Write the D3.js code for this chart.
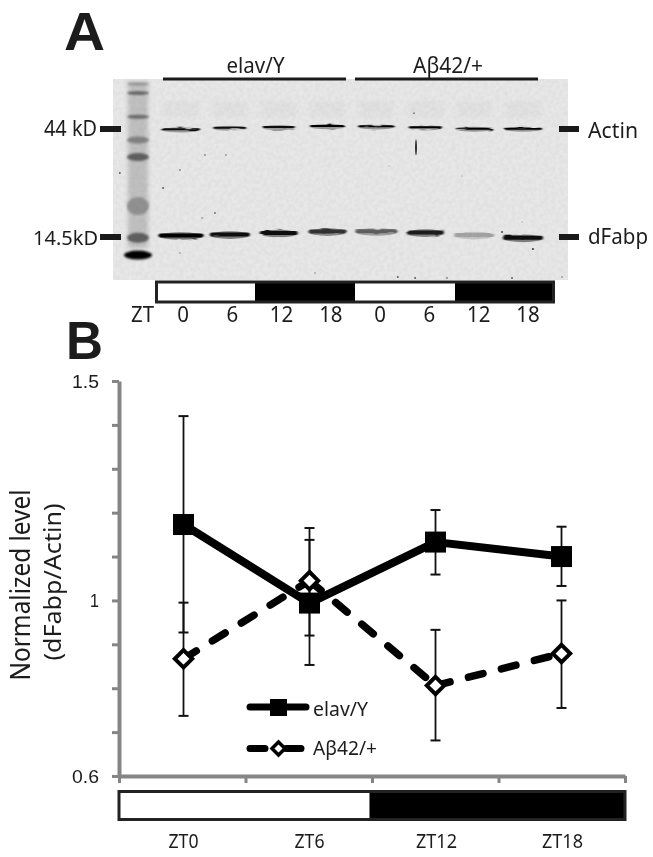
<!DOCTYPE html>
<html>
<head>
<meta charset="utf-8">
<style>
html, body { margin: 0; padding: 0; background: #fff; }
svg { display: block; }
text { font-family: "Noto Sans", "Open Sans", sans-serif; fill: #1c1c1c; }
</style>
<script src="https://cdn.jsdelivr.net/npm/d3@7"></script>
</head>
<body>
<script>
// panel B values
var times = ["ZT0", "ZT6", "ZT12", "ZT18"];
var elavMean = [1.173, 0.994, 1.133, 1.100];
var elavLow = [0.927, 0.853, 1.059, 1.033];
var elavHigh = [1.420, 1.138, 1.206, 1.168];
var abetaMean = [0.867, 1.045, 0.806, 0.879];
var abetaLow = [0.737, 0.920, 0.681, 0.755];
var abetaHigh = [0.995, 1.165, 0.933, 1.000];
var yTicks = [0.6, 0.7, 0.8, 0.9, 1.0, 1.1, 1.2, 1.3, 1.4, 1.5];
var yLabels = [0.6, 1, 1.5];

// panel A values, migration is percent of gel height
var lanes = ["e0", "e6", "e12", "e18", "a0", "a6", "a12", "a18"];
var laneTicks = ["0", "6", "12", "18", "0", "6", "12", "18"];
var actinMigration = [25.0, 24.2, 23.9, 23.4, 23.5, 24.0, 24.7, 24.7];
var actinStrength = [0.95, 0.95, 0.95, 1, 1, 1, 1, 1];
var actinSpread = [0.78, 0.68, 0.66, 0.72, 0.75, 0.68, 0.74, 0.78];
var fabpMigration = [77.8, 77.4, 76.6, 75.9, 75.8, 76.4, 77.6, 79.0];
var fabpStrength = [1, 0.95, 0.95, 0.8, 0.6, 0.9, 0.3, 0.95];
var fabpSpread = [0.92, 0.82, 0.78, 0.78, 0.86, 0.76, 0.82, 0.82];
var ladderMigration = [2.5, 7, 18.8, 30.3, 38.8, 63.2, 79, 87.6];
var ladderStrength = [0.4, 0.6, 0.55, 0.45, 0.6, 0.38, 0.6, 1];
var ladderThick = [2, 3.5, 4, 7, 8, 18, 10, 9];
var specksX = [1.5, 11, 14.7, 20.2, 24.8, 22.4, 19.6, 14.7, 44.4, 92.3, 85.5, 60.7, 76.7, 89.9, 62.6, 66.4, 87.7, 98.7, 73.4];
var specksY = [46.8, 54.2, 45.3, 37.8, 37.8, 66.7, 69.2, 86.6, 96.5, 84.6, 76.1, 43.3, 48.3, 71.1, 98.5, 99, 99, 98.5, 99];
var specksTone = [0.6, 0.6, 0.4, 0.4, 0.3, 0.5, 0.3, 0.25, 0.25, 0.8, 0.7, 0.12, 0.12, 0.12, 0.6, 0.6, 0.6, 0.3, 0.4];

var width = 653, height = 857;
var svg = d3.select("body").append("svg").attr("width", width).attr("height", height);

var defs = svg.append("defs");
function addFilter(id) {
    return defs.append("filter").attr("id", id)
        .attr("filterUnits", "userSpaceOnUse")
        .attr("x", 0).attr("y", 0).attr("width", width).attr("height", height);
}
addFilter("softBlur").append("feGaussianBlur").attr("stdDeviation", "2.2 1.6");
addFilter("ladderBlur").append("feGaussianBlur").attr("stdDeviation", "1.2 1");
addFilter("textBlur").append("feGaussianBlur").attr("stdDeviation", "0.35");

// ragged band edges
var ragged = addFilter("ragged");
ragged.append("feTurbulence").attr("type", "fractalNoise").attr("baseFrequency", "0.07 0.18")
    .attr("numOctaves", 2).attr("seed", 4).attr("result", "n");
ragged.append("feDisplacementMap").attr("in", "SourceGraphic").attr("in2", "n")
    .attr("scale", 2.5).attr("xChannelSelector", "R").attr("yChannelSelector", "G").attr("result", "d");
ragged.append("feGaussianBlur").attr("in", "d").attr("stdDeviation", "0.8 0.55");

// faint blotting membrane grain
var grain = addFilter("grain");
grain.append("feTurbulence").attr("type", "fractalNoise").attr("baseFrequency", "0.25")
    .attr("numOctaves", 2).attr("seed", 9).attr("result", "n");
grain.append("feColorMatrix").attr("in", "n").attr("type", "matrix")
    .attr("values", "0 0 0 0 0  0 0 0 0 0  0 0 0 0 0  0.07 0 0 0 -0.025").attr("result", "g");
grain.append("feComposite").attr("in", "g").attr("in2", "SourceAlpha").attr("operator", "in");

// squeezed text, the original font is much narrower than what is installed
function label(g, str, x, y, size, len, anchor) {
    return g.append("text")
        .attr("x", x).attr("y", y)
        .attr("font-size", size)
        .attr("text-anchor", anchor || "start")
        .attr("textLength", len)
        .attr("lengthAdjust", "spacingAndGlyphs")
        .text(str);
}

//---------- panel A
var panelA = svg.append("g");
var blackBar = "#1a1a1a";

var gelX = d3.scaleLinear().domain([0, 100]).range([113, 568]);
var gelY = d3.scaleLinear().domain([0, 100]).range([79, 280]);
var laneX = d3.scalePoint().domain(lanes).range([181, 523]);
var laneStep = laneX.step();
var grey = d3.scaleLinear().domain([0, 1]).range(["#e6e6e6", "#050505"]);

panelA.append("rect")
    .attr("x", gelX(0)).attr("y", gelY(0))
    .attr("width", gelX(100) - gelX(0)).attr("height", gelY(100) - gelY(0))
    .attr("fill", "#e7e7e7");

// ladder smear and its bands
panelA.append("rect")
    .attr("x", 128).attr("y", gelY(1))
    .attr("width", 20).attr("height", gelY(84) - gelY(1))
    .attr("fill", "#bfbfbf").attr("filter", "url(#softBlur)");

panelA.selectAll(".ladder").data(ladderMigration).enter().append("ellipse")
    .attr("class", "ladder")
    .attr("cx", 138)
    .attr("cy", function(d) { return gelY(d); })
    .attr("rx", function(d, i) { return i == 7 ? 14 : 11; })
    .attr("ry", function(d, i) { return ladderThick[i] / 2; })
    .attr("fill", function(d, i) { return grey(ladderStrength[i]); })
    .attr("filter", "url(#ladderBlur)");

// faint smudges over the actin bands
panelA.selectAll(".smudge").data(lanes).enter().append("rect")
    .attr("class", "smudge")
    .attr("x", function(d) { return laneX(d) - laneStep * 0.36; })
    .attr("y", gelY(11))
    .attr("width", laneStep * 0.72)
    .attr("height", gelY(19) - gelY(11))
    .attr("fill", "#e1e1e1")
    .attr("filter", "url(#softBlur)");

var bands = panelA.append("g").attr("filter", "url(#ragged)");

function drawBands(cls, migration, strength, spread, thick, haloThick, haloShare) {
    // grey halo under, dark core on top
    bands.selectAll("." + cls + "h").data(lanes).enter().append("ellipse")
        .attr("class", cls + "h")
        .attr("cx", function(d) { return laneX(d); })
        .attr("cy", function(d, i) { return gelY(migration[i]) + 0.6; })
        .attr("rx", function(d, i) { return laneStep * spread[i] / 2; })
        .attr("ry", haloThick)
        .attr("fill", function(d, i) { return grey(strength[i] * haloShare); });
    bands.selectAll("." + cls).data(lanes).enter().append("rect")
        .attr("class", cls)
        .attr("x", function(d, i) { return laneX(d) - laneStep * spread[i] / 2; })
        .attr("y", function(d, i) { return gelY(migration[i]) - thick / 2; })
        .attr("width", function(d, i) { return laneStep * spread[i]; })
        .attr("height", thick)
        .attr("rx", thick / 2)
        .attr("fill", function(d, i) { return grey(strength[i]); });
}
drawBands("actin", actinMigration, actinStrength, actinSpread, 2, 2.6, 0.35);
drawBands("fabp", fabpMigration, fabpStrength, fabpSpread, 4, 3.8, 0.5);

// scratch through lane a6
panelA.append("ellipse")
    .attr("cx", 416).attr("cy", gelY(34))
    .attr("rx", 1).attr("ry", 8)
    .attr("fill", "#333").attr("filter", "url(#textBlur)");
panelA.append("circle")
    .attr("cx", 414).attr("cy", gelY(17)).attr("r", 0.9).attr("fill", "#777");

panelA.selectAll(".speck").data(specksX).enter().append("circle")
    .attr("class", "speck")
    .attr("cx", function(d) { return gelX(d); })
    .attr("cy", function(d, i) { return gelY(specksY[i]); })
    .attr("r", 1)
    .attr("fill", function(d, i) { return grey(specksTone[i]); });

panelA.append("rect")
    .attr("x", gelX(0)).attr("y", gelY(0))
    .attr("width", gelX(100) - gelX(0)).attr("height", gelY(100) - gelY(0))
    .attr("fill", "#000").attr("filter", "url(#grain)");

// group bars and markers
panelA.append("rect").attr("x", 163).attr("y", 77.5).attr("width", 183).attr("height", 3).attr("fill", blackBar);
panelA.append("rect").attr("x", 355).attr("y", 77.5).attr("width", 183).attr("height", 3).attr("fill", blackBar);
[129, 237].forEach(function(y) {
    panelA.append("rect").attr("x", 100).attr("y", y - 3).attr("width", 21).attr("height", 6).attr("fill", blackBar);
    panelA.append("rect").attr("x", 559).attr("y", y - 3).attr("width", 20).attr("height", 6).attr("fill", blackBar);
});

// light dark bar of the blot
var ldX = d3.scaleBand().domain(d3.range(4)).range([155, 555]);
panelA.selectAll(".ldA").data(d3.range(4)).enter().append("rect")
    .attr("class", "ldA")
    .attr("x", function(d) { return ldX(d); })
    .attr("y", 282)
    .attr("width", ldX.bandwidth())
    .attr("height", 20)
    .attr("fill", function(d) { return d % 2 ? "#000" : "#fff"; });
panelA.append("rect").attr("x", 156.5).attr("y", 282).attr("width", 397).attr("height", 20)
    .attr("fill", "none").attr("stroke", "#222").attr("stroke-width", 3);

var textA = panelA.append("g").attr("filter", "url(#textBlur)");
label(textA, "elav/Y", 255.5, 72.5, 21, 58, "middle");
label(textA, "Aβ42/+", 448, 72.5, 21, 70, "middle");
label(textA, "44 kD", 97, 136, 21, 53, "end");
label(textA, "14.5kD", 98, 245, 20, 65, "end");
label(textA, "Actin", 588, 138, 22, 50);
label(textA, "dFabp", 588, 243.5, 22, 60);
label(textA, "ZT", 131, 322, 21, 23);
var tickX = d3.scalePoint().domain(lanes).range([183, 528]);
lanes.forEach(function(l, i) {
    label(textA, laneTicks[i], tickX(l), 322, 21, laneTicks[i].length * 11.7, "middle");
});

svg.append("text").attr("x", 64).attr("y", 49.5)
    .attr("font-size", 54).attr("font-weight", 700).attr("fill", "#222")
    .style("font-family", "Liberation Sans")
    .attr("textLength", 41).attr("lengthAdjust", "spacingAndGlyphs").text("A");
svg.append("text").attr("x", 66).attr("y", 359)
    .attr("font-size", 54).attr("font-weight", 700).attr("fill", "#222")
    .style("font-family", "Liberation Sans")
    .attr("textLength", 37).attr("lengthAdjust", "spacingAndGlyphs").text("B");

//---------- panel B
var left = 119, right = 625, top_ = 381, bottom = 776;
var x = d3.scaleBand().domain(times).range([120.5, 624.5]);
var xEdge = d3.scaleLinear().domain([0, 4]).range([left, right]);
var y = d3.scaleLinear().domain([0.6, 1.5]).range([bottom, top_]);

var yAxis = d3.axisLeft(y).tickValues(yTicks).tickSize(7).tickSizeOuter(0).tickFormat("");
var gy = svg.append("g").attr("transform", "translate(" + left + ",0)").call(yAxis);
var xAxis = d3.axisBottom(xEdge).ticks(4).tickSize(7).tickSizeOuter(0).tickFormat("");
var gx = svg.append("g").attr("transform", "translate(0," + bottom + ")").call(xAxis);
svg.selectAll(".domain").attr("stroke", "#858585").attr("stroke-width", 4);
svg.selectAll(".tick line").attr("stroke", "#858585").attr("stroke-width", 3);

var textB = svg.append("g").attr("filter", "url(#textBlur)");
yLabels.forEach(function(v) {
    label(textB, String(v), 99, y(v) + 7, 19, v == 1 ? 9 : 27, "end")
        .style("font-family", "Liberation Sans");
});

textB.append("text")
    .attr("transform", "translate(30,585) rotate(-90)")
    .attr("text-anchor", "middle").attr("font-size", 26.5)
    .attr("textLength", 191).attr("lengthAdjust", "spacingAndGlyphs")
    .text("Normalized level");
textB.append("text")
    .attr("transform", "translate(61,582) rotate(-90)")
    .attr("text-anchor", "middle").attr("font-size", 24)
    .attr("textLength", 157).attr("lengthAdjust", "spacingAndGlyphs")
    .text("(dFabp/Actin)");

var xc = function(i) { return x(times[i]) + x.bandwidth() / 2; };

function errorBars(low, high) {
    var g = svg.append("g").attr("stroke", "#111").attr("fill", "none");
    times.forEach(function(t, i) {
        g.append("line").attr("x1", xc(i)).attr("x2", xc(i)).attr("y1", y(low[i])).attr("y2", y(high[i])).attr("stroke-width", 1.8);
        [low[i], high[i]].forEach(function(v) {
            g.append("line").attr("x1", xc(i) - 5).attr("x2", xc(i) + 5).attr("y1", y(v)).attr("y2", y(v)).attr("stroke-width", 2);
        });
    });
}
errorBars(elavLow, elavHigh);
errorBars(abetaLow, abetaHigh);

var line = d3.line()
    .x(function(d) { return xc(d.i); })
    .y(function(d) { return y(d.v); });

function withIndex(values) {
    return values.map(function(v, i) { return {i: i, v: v}; });
}

// dashes start over at each marker, so one path per segment
svg.selectAll(".dashSeg").data(d3.pairs(withIndex(abetaMean))).enter().append("path")
    .attr("class", "dashSeg")
    .attr("d", line).attr("fill", "none").attr("stroke", "#000")
    .attr("stroke-width", 7.5).attr("stroke-dasharray", "15 19").attr("stroke-linecap", "round");
svg.append("path").datum(withIndex(elavMean))
    .attr("d", line).attr("fill", "none").attr("stroke", "#000").attr("stroke-width", 8);

svg.selectAll(".sq").data(elavMean).enter().append("rect")
    .attr("class", "sq")
    .attr("x", function(d, i) { return xc(i) - 10.5; })
    .attr("y", function(d) { return y(d) - 10.5; })
    .attr("width", 21).attr("height", 21).attr("fill", "#000");

svg.selectAll(".dm").data(abetaMean).enter().append("path")
    .attr("class", "dm")
    .attr("d", "M0,-8.7L8.7,0L0,8.7L-8.7,0Z")
    .attr("transform", function(d, i) { return "translate(" + xc(i) + "," + y(d) + ")"; })
    .attr("fill", "#fff").attr("stroke", "#000").attr("stroke-width", 4);

// legend
var legend = svg.append("g");
legend.append("line").attr("x1", 250).attr("x2", 306).attr("y1", 707).attr("y2", 707)
    .attr("stroke", "#000").attr("stroke-width", 7).attr("stroke-linecap", "round");
legend.append("rect").attr("x", 270).attr("y", 699).attr("width", 17).attr("height", 17).attr("fill", "#000");
legend.append("line").attr("x1", 250).attr("x2", 305).attr("y1", 748.5).attr("y2", 748.5)
    .attr("stroke", "#000").attr("stroke-width", 7).attr("stroke-linecap", "round")
    .attr("stroke-dasharray", "15 21");
legend.append("path").attr("d", "M0,-6.5L6.5,0L0,6.5L-6.5,0Z")
    .attr("transform", "translate(278.5,748.5)")
    .attr("fill", "#fff").attr("stroke", "#000").attr("stroke-width", 3.5);
label(textB, "elav/Y", 313, 715.5, 19.5, 55);
label(textB, "Aβ42/+", 313, 755, 19.5, 64);

// light dark strip
var phases = ["light", "dark"];
var phaseEnd = [0.495, 1];
var stripX = d3.scaleLinear().domain([0, 1]).range([left, right]);
svg.selectAll(".strip").data(phases).enter().append("rect")
    .attr("class", "strip")
    .attr("x", function(d, i) { return stripX(i ? phaseEnd[i - 1] : 0); })
    .attr("y", 791.5)
    .attr("width", function(d, i) { return stripX(phaseEnd[i]) - stripX(i ? phaseEnd[i - 1] : 0); })
    .attr("height", 28)
    .attr("fill", function(d) { return d == "light" ? "#fff" : "#000"; });
svg.append("rect").attr("x", left).attr("y", 791.5).attr("width", right - left).attr("height", 28)
    .attr("fill", "none").attr("stroke", "#222").attr("stroke-width", 3);

times.forEach(function(t, i) {
    label(textB, t, xc(i) + (i > 1 ? 1 : 0), 848, 19, t.length == 3 ? 30 : 41, "middle");
});
</script>
</body>
</html>
